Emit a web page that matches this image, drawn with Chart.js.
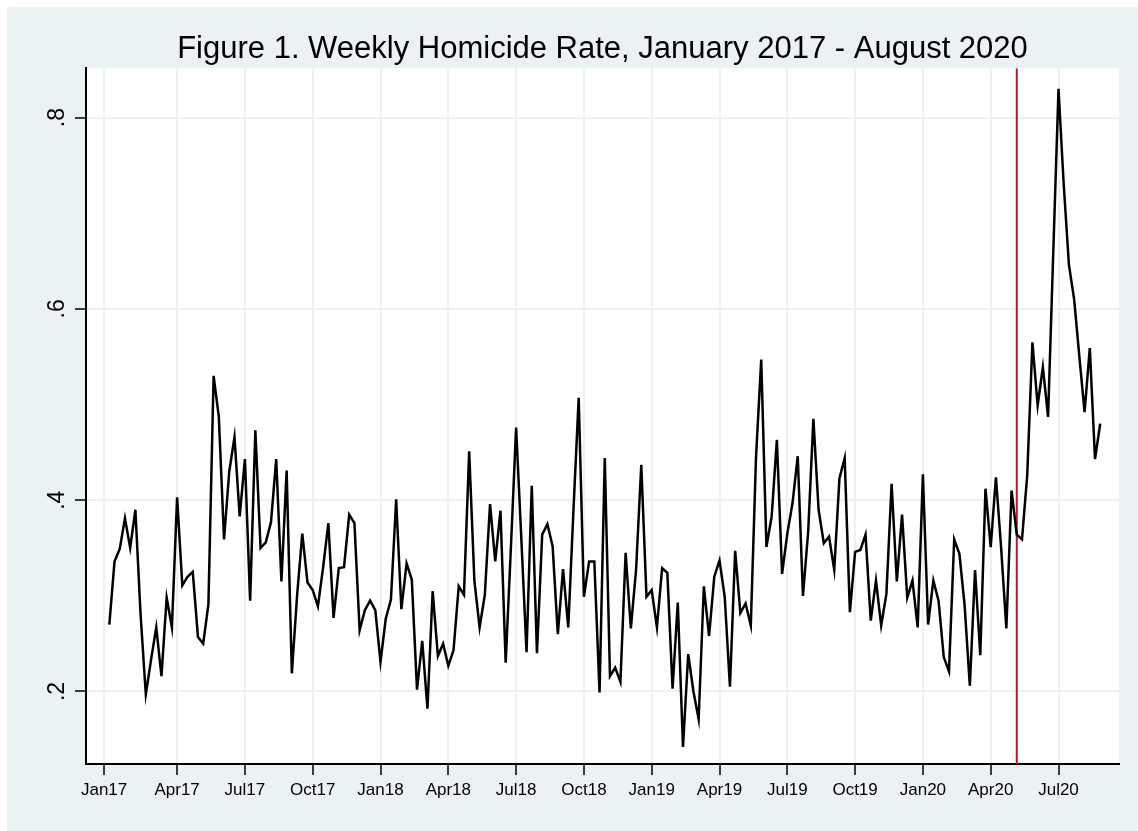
<!DOCTYPE html>
<html>
<head>
<meta charset="utf-8">
<script src="https://cdn.jsdelivr.net/npm/chart.js@4.4.1/dist/chart.umd.min.js"></script>
<style>
  html, body { margin: 0; padding: 0; background: #fff; }
  canvas { display: block; }
</style>
</head>
<body>
<canvas id="homicideChart" width="1138" height="831"></canvas>
<script>
// weekly homicide rate, starting one week after the Jan17 tick
const weeklyRate = [
  0.270, 0.336, 0.349, 0.381, 0.350, 0.390, 0.280, 0.197, 0.233, 0.267,
  0.216, 0.298, 0.267, 0.403, 0.311, 0.320, 0.325, 0.257, 0.250, 0.291,
  0.530, 0.487, 0.359, 0.430, 0.466, 0.383, 0.443, 0.295, 0.473, 0.350,
  0.356, 0.377, 0.443, 0.315, 0.431, 0.219, 0.300, 0.365, 0.314, 0.306,
  0.289, 0.330, 0.376, 0.277, 0.329, 0.330, 0.385, 0.376, 0.264, 0.285,
  0.295, 0.285, 0.231, 0.276, 0.296, 0.401, 0.286, 0.334, 0.317, 0.202,
  0.253, 0.182, 0.305, 0.237, 0.250, 0.227, 0.243, 0.310, 0.301, 0.451,
  0.316, 0.267, 0.301, 0.396, 0.336, 0.389, 0.230, 0.350, 0.476, 0.360,
  0.241, 0.415, 0.240, 0.364, 0.375, 0.352, 0.260, 0.328, 0.267, 0.390,
  0.507, 0.299, 0.336, 0.336, 0.199, 0.444, 0.216, 0.225, 0.210, 0.345,
  0.266, 0.327, 0.437, 0.299, 0.306, 0.267, 0.329, 0.324, 0.203, 0.293,
  0.142, 0.239, 0.200, 0.171, 0.310, 0.258, 0.320, 0.337, 0.299, 0.205,
  0.347, 0.282, 0.292, 0.269, 0.445, 0.547, 0.351, 0.383, 0.463, 0.323,
  0.365, 0.397, 0.446, 0.300, 0.367, 0.485, 0.390, 0.355, 0.362, 0.327,
  0.423, 0.444, 0.283, 0.346, 0.348, 0.364, 0.274, 0.316, 0.269, 0.302,
  0.417, 0.315, 0.385, 0.298, 0.316, 0.267, 0.427, 0.270, 0.316, 0.295,
  0.236, 0.221, 0.359, 0.344, 0.290, 0.206, 0.327, 0.238, 0.412, 0.351,
  0.424, 0.350, 0.266, 0.410, 0.364, 0.359, 0.426, 0.565, 0.499, 0.539,
  0.487, 0.660, 0.830, 0.730, 0.646, 0.610, 0.550, 0.492, 0.559, 0.443,
  0.480
];
const firstWeek = 1;

const xTickWeeks = [0, 14, 27, 40, 53, 66, 79, 92, 105, 118, 131, 144, 157, 170, 183];
const xTickLabels = ["Jan17", "Apr17", "Jul17", "Oct17", "Jan18", "Apr18", "Jul18", "Oct18",
                     "Jan19", "Apr19", "Jul19", "Oct19", "Jan20", "Apr20", "Jul20"];
const yTickValues = [0.2, 0.4, 0.6, 0.8];
const yTickLabels = [".2", ".4", ".6", ".8"];

// week of the red reference line (late May 2020)
const interventionWeek = 175;

const xMin = -3.47, xMax = 194.6;
const yMin = 0.1242, yMax = 0.8515;

const FONT = "'Liberation Sans', Arial, Helvetica, sans-serif";
const BG = '#EAF2F3';

// stata-like backdrop + rotated y labels
const stataLook = {
    id: 'stataLook',
    beforeDraw(chart) {
        const ctx = chart.ctx, a = chart.chartArea;
        ctx.save();
        ctx.fillStyle = '#ffffff';
        ctx.fillRect(0, 0, chart.width, chart.height);
        ctx.fillStyle = BG;
        ctx.fillRect(7, 7, chart.width - 7, chart.height - 7);
        ctx.fillStyle = '#ffffff';
        ctx.fillRect(a.left, a.top, a.right - a.left, a.bottom - a.top);
        ctx.restore();
    },
    afterDraw(chart) {
        const ctx = chart.ctx, y = chart.scales.y;
        ctx.save();
        ctx.font = '23px ' + FONT;
        ctx.fillStyle = '#000';
        ctx.textAlign = 'center';
        ctx.textBaseline = 'alphabetic';
        yTickValues.forEach(function (v, i) {
            ctx.save();
            ctx.translate(y.right - 22, y.getPixelForValue(v));
            ctx.rotate(-Math.PI / 2);
            ctx.fillText(yTickLabels[i], 0, 0);
            ctx.restore();
        });
        ctx.restore();
    }
};

const ratePoints = weeklyRate.map(function (v, i) { return { x: firstWeek + i, y: v }; });

const config = {
    type: 'line',
    data: {
        datasets: [
            {
                data: ratePoints,
                borderColor: '#000000',
                borderWidth: 2.5,
                pointRadius: 0,
                tension: 0,
                fill: false
            },
            {
                data: [{ x: interventionWeek, y: yMin }, { x: interventionWeek, y: yMax }],
                borderColor: '#C8102E',
                borderWidth: 2,
                pointRadius: 0,
                fill: false
            }
        ]
    },
    options: {
        responsive: false,
        animation: false,
        devicePixelRatio: 1,
        layout: { padding: { left: 0, right: 19, top: 0, bottom: 0 } },
        scales: {
            x: {
                type: 'linear',
                min: xMin,
                max: xMax,
                afterBuildTicks: function (scale) {
                    scale.ticks = xTickWeeks.map(function (w) { return { value: w }; });
                },
                afterFit: function (scale) { scale.height = 67; },
                ticks: {
                    autoSkip: false,
                    maxRotation: 0,
                    padding: 5,
                    color: '#000',
                    font: { family: FONT, size: 17 },
                    callback: function (value) {
                        const k = xTickWeeks.indexOf(value);
                        return k >= 0 ? xTickLabels[k] : '';
                    }
                },
                grid: {
                    color: BG,
                    lineWidth: 2,
                    tickColor: '#000',
                    tickLength: 11,
                    tickWidth: 1.5
                },
                border: { display: true, color: '#000', width: 2 }
            },
            y: {
                type: 'linear',
                min: yMin,
                max: yMax,
                afterBuildTicks: function (scale) {
                    scale.ticks = yTickValues.map(function (v) { return { value: v }; });
                },
                afterFit: function (scale) { scale.width = 86; },
                ticks: { display: false },
                grid: {
                    color: BG,
                    lineWidth: 2,
                    tickColor: '#000',
                    tickLength: 11,
                    tickWidth: 1.5
                },
                border: { display: true, color: '#000', width: 2 }
            }
        },
        plugins: {
            legend: { display: false },
            tooltip: { enabled: false },
            title: {
                display: true,
                fullSize: false,
                text: 'Figure 1. Weekly Homicide Rate, January 2017 - August 2020',
                color: '#000',
                font: { family: FONT, size: 31, weight: 'normal', lineHeight: 1.2 },
                padding: { top: 30.4, bottom: 0.7 }
            }
        }
    },
    plugins: [stataLook]
};

new Chart(document.getElementById('homicideChart'), config);
</script>
</body>
</html>
